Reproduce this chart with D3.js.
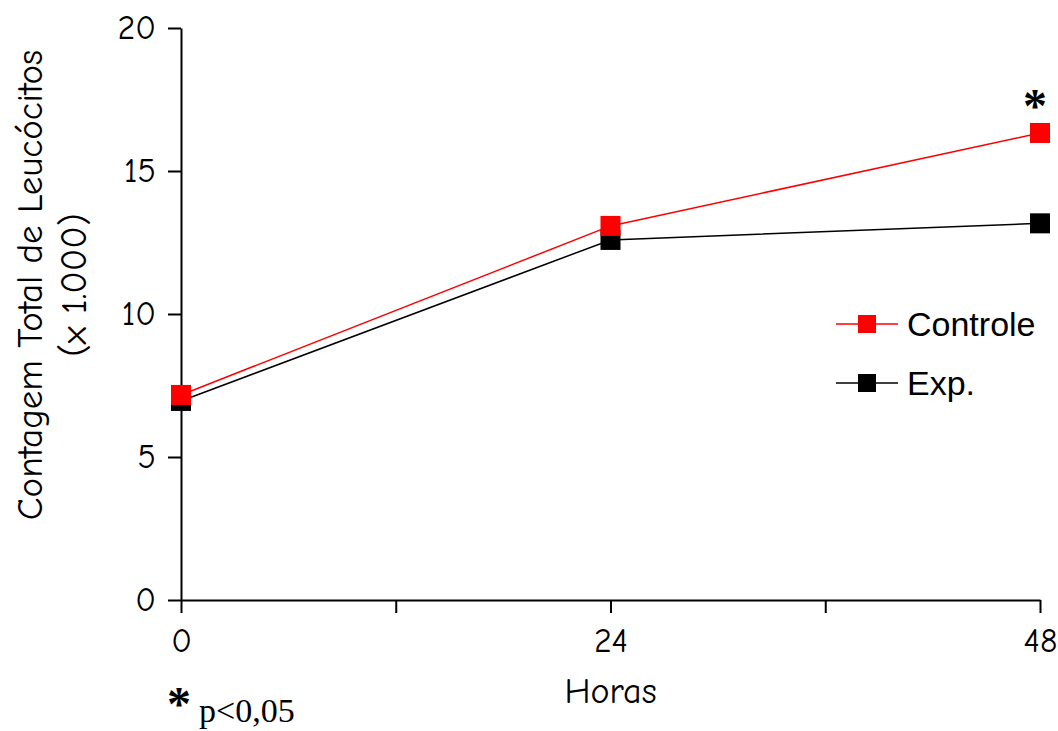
<!DOCTYPE html>
<html>
<head>
<meta charset="utf-8">
<script src="https://cdn.jsdelivr.net/npm/d3@7"></script>
<style>
body{margin:0;background:#fff;}
svg{display:block;}
</style>
</head>
<body>
<svg id="chart" width="1058" height="731"></svg>
<script>
var horas = [0, 24, 48];
var controle = [7.17, 13.08, 16.33];
var experimental = [6.96, 12.59, 13.17];
var yTicks = [0, 5, 10, 15, 20];
var xTicks = [0, 12, 24, 36, 48];
var xLabels = [0, 24, 48];
var series = [
    {nome:"Exp.", valores:experimental, cor:"#000"},
    {nome:"Controle", valores:controle, cor:"#ff0000"}
];
var comic = "'Comic Sans MS','Comic Neue','DejaVu Sans',sans-serif";

var svg = d3.select("#chart");
var x = d3.scaleLinear().domain([0,48]).range([181,1040]);
var y = d3.scaleLinear().domain([0,20]).range([600,28]);

// eixo y
svg.append("g").attr("transform","translate(181,0)")
    .call(d3.axisLeft(y).tickValues(yTicks).tickSize(13).tickSizeOuter(0).tickFormat(d3.format("d")))
    .call(function(g){
        g.select(".domain").attr("stroke","#000").attr("stroke-width",2);
        g.selectAll(".tick line").attr("stroke-width",2);
        g.selectAll("text").attr("font-family",comic).attr("font-size",34).attr("fill","#000").attr("x",-25);
    });

// eixo x
svg.append("g").attr("transform","translate(0,600)")
    .call(d3.axisBottom(x).tickValues(xTicks).tickSize(13).tickSizeOuter(0).tickFormat(function(d){return xLabels.indexOf(d)>=0?d:"";}))
    .call(function(g){
        g.select(".domain").attr("stroke","#000").attr("stroke-width",2);
        g.selectAll(".tick line").attr("stroke-width",2);
        g.selectAll("text").attr("font-family",comic).attr("font-size",34).attr("fill","#000").attr("y",28);
    });

// linhas e marcadores
var linha = d3.line().x(function(d,i){return x(horas[i]);}).y(function(d){return y(d);});
series.forEach(function(s){
    svg.append("path").attr("d",linha(s.valores)).attr("fill","none").attr("stroke",s.cor).attr("stroke-width",1.5);
});
series.forEach(function(s){
    svg.selectAll(null).data(s.valores).enter().append("rect")
        .attr("x",function(d,i){return x(horas[i])-10;})
        .attr("y",function(d){return y(d)-10;})
        .attr("width",20).attr("height",20)
        .attr("fill",s.cor);
});

// legenda
var leg = [series[1], series[0]];
leg.forEach(function(s,i){
    var ly = 324 + i*59;
    svg.append("line").attr("x1",836).attr("x2",898).attr("y1",ly).attr("y2",ly).attr("stroke",s.cor).attr("stroke-width",1.5);
    svg.append("rect").attr("x",858).attr("y",ly-9).attr("width",18).attr("height",18).attr("fill",s.cor);
    svg.append("text").attr("x",907).attr("y",ly+12).attr("font-family","Liberation Sans, Arial, sans-serif")
        .attr("font-size",34).text(s.nome);
});

// titulos
svg.append("text").attr("transform","translate(42,285) rotate(-90)").attr("text-anchor","middle")
    .attr("font-family",comic).attr("font-size",37).text("Contagem Total de Leucócitos");
svg.append("text").attr("transform","translate(86,285) rotate(-90)").attr("text-anchor","middle")
    .attr("font-family",comic).attr("font-size",37).text("(x 1.000)");
svg.append("text").attr("x",x(24)).attr("y",703).attr("text-anchor","middle")
    .attr("font-family",comic).attr("font-size",36).text("Horas");

// significancia
svg.append("text").attr("x",x(48)-5).attr("y",122).attr("text-anchor","middle")
    .attr("font-family","Liberation Serif, serif").attr("font-weight","bold").attr("font-size",48).text("*");
svg.append("text").attr("x",167).attr("y",720)
    .attr("font-family","Liberation Serif, serif").attr("font-weight","bold").attr("font-size",48).text("*");
svg.append("text").attr("x",199).attr("y",722)
    .attr("font-family","Liberation Serif, serif").attr("font-size",34).text("p<0,05");
</script>
</body>
</html>
